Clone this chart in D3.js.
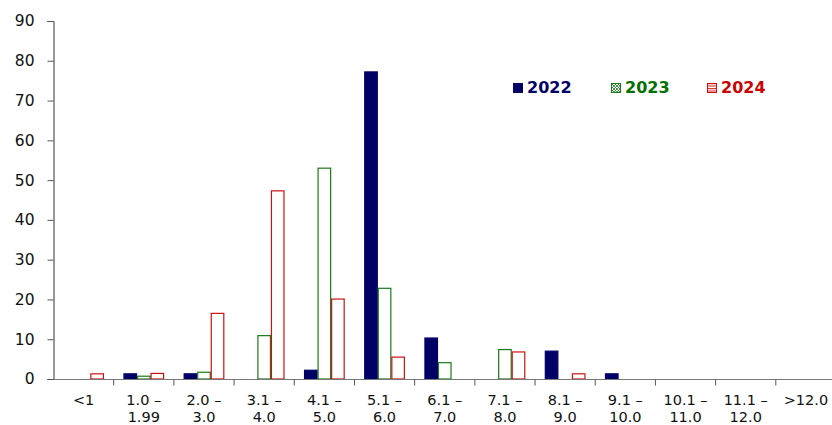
<!DOCTYPE html>
<html><head><meta charset="utf-8">
<script src="https://cdn.jsdelivr.net/npm/d3@7"></script>
<style>body{margin:0;background:#fff}svg{display:block}</style>
</head><body><svg id="c" width="832" height="425"></svg>
<script>
const categories = [["<1"],["1.0 –","1.99"],["2.0 –","3.0"],["3.1 –","4.0"],["4.1 –","5.0"],["5.1 –","6.0"],["6.1 –","7.0"],["7.1 –","8.0"],["8.1 –","9.0"],["9.1 –","10.0"],["10.1 –","11.0"],["11.1 –","12.0"],[">12.0"]];
const series = ["2022","2023","2024"];
const v2022 = [0,1.3,1.3,0,2.2,77.2,10.3,0,7.0,1.3,0,0,0];
const v2023 = [0,0.7,1.7,10.9,53.0,22.8,4.1,7.4,0,0,0,0,0];
const v2024 = [1.3,1.4,16.5,47.3,20.1,5.5,0,6.8,1.3,0,0,0,0];
const yTicks = [0,10,20,30,40,50,60,70,80,90];

const values = [v2022, v2023, v2024];
const fills = ["#000066","#ffffff","#ffffff"];
const strokes = ["#000066","#1a7a1a","#cc1111"];
const textCols = ["#000066","#007000","#cc0000"];
const font = "'DejaVu Sans', sans-serif";

const svg = d3.select("#c");
const x = d3.scaleBand().domain(d3.range(categories.length)).range([53.5, 836]).paddingInner(0).paddingOuter(0);
const y = d3.scaleLinear().domain([0,90]).range([379,21]);
const bw = x.bandwidth()*0.225;
const off = (x.bandwidth() - 3*bw)/2;

// bars
series.forEach((s,si)=>{
  const data = values[si].map((v,i)=>({i,v})).filter(d=>d.v>0);
  svg.append("g").selectAll("rect").data(data).join("rect")
    .attr("x",d=>x(d.i)+off+si*bw+0.5)
    .attr("y",d=>y(d.v))
    .attr("width",bw-1)
    .attr("height",d=>y(0)-y(d.v))
    .attr("fill",fills[si]).attr("stroke",strokes[si]).attr("stroke-width",1.2);
});

// y axis
const ya = svg.append("g").attr("transform","translate(53.5,0)")
  .call(d3.axisLeft(y).tickValues(yTicks).tickSize(6).tickPadding(13));
ya.select(".domain").attr("stroke","#333");
ya.selectAll(".tick line").attr("stroke","#555");
ya.selectAll("text").attr("font-family",font).attr("font-size",15.5).attr("fill","#111");

// x axis
const xg = svg.append("g").attr("transform","translate(0,379.5)");
xg.append("line").attr("x1",53.5).attr("x2",836).attr("stroke","#777").attr("stroke-width",1.2);
xg.selectAll("line.t").data(d3.range(1,categories.length)).join("line").attr("class","t")
  .attr("x1",i=>x(i)).attr("x2",i=>x(i)).attr("y1",0).attr("y2",6).attr("stroke","#555");
const lab = xg.selectAll("text").data(categories).join("text")
  .attr("text-anchor","middle").attr("font-family",font).attr("font-size",14.5).attr("fill","#111")
  .attr("transform",(d,i)=>`translate(${x(i)+x.bandwidth()/2},0)`);
lab.selectAll("tspan").data(d=>d).join("tspan").attr("x",0).attr("y",(d,j)=>25+j*17.5).text(d=>d);

// legend patterns
const defs = svg.append("defs");
const p1 = defs.append("pattern").attr("id","p23").attr("width",3).attr("height",3).attr("patternUnits","userSpaceOnUse");
p1.append("rect").attr("width",3).attr("height",3).attr("fill","#fff");
p1.append("path").attr("d","M0,0L3,3M3,0L0,3").attr("stroke","#1a7a1a").attr("stroke-width",0.8);
const p2 = defs.append("pattern").attr("id","p24").attr("width",3).attr("height",2.5).attr("patternUnits","userSpaceOnUse");
p2.append("rect").attr("width",3).attr("height",2.5).attr("fill","#fff");
p2.append("line").attr("x1",0).attr("x2",3).attr("y1",0.6).attr("y2",0.6).attr("stroke","#cc1111").attr("stroke-width",1);

const legX = [513, 611, 707];
const legFill = ["#000066","url(#p23)","url(#p24)"];
series.forEach((s,si)=>{
  const g = svg.append("g").attr("transform",`translate(${legX[si]},83)`);
  g.append("rect").attr("x",0.5).attr("y",0.5).attr("width",9).attr("height",9)
    .attr("fill",legFill[si]).attr("stroke",strokes[si]).attr("stroke-width",1);
  g.append("text").attr("x",14).attr("y",10).attr("font-family",font).attr("font-weight","bold")
    .attr("font-size",16).attr("fill",textCols[si]).text(s);
});
</script></body></html>
